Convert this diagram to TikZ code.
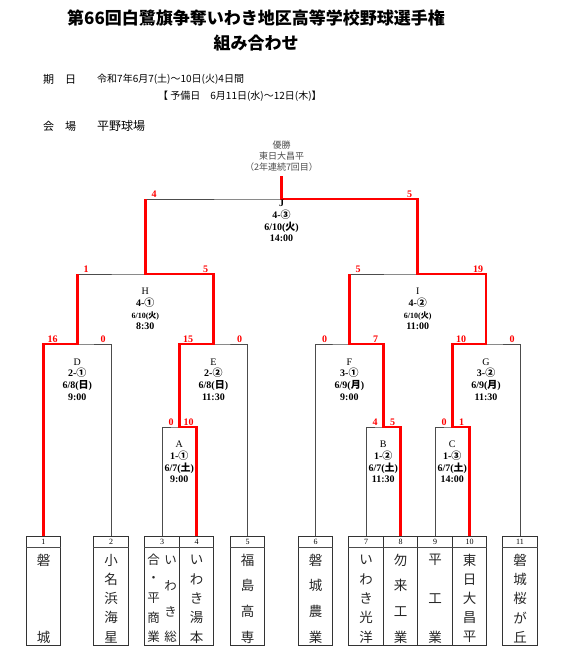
\documentclass[tikz,border=0pt]{standalone}
\usepackage{fontspec}
\setmainfont{Liberation Serif}
\newfontfamily\cjk{Noto Sans CJK JP}
\newcommand\J[1]{{\cjk #1}}
\newcommand\vcol[5]{% prefix, x, n, style, list
  \foreach \ch [count=\i] in {#5}{\node[#4] (#1-\i) at (#2,{560+(\i-1)*77/(#3-1)}) {\ch};}}
\begin{document}
\begin{tikzpicture}[x=1pt,y=-1pt,
  wline/.style={draw=black!70, line width=0.8pt},
  rline/.style={draw=red, line width=2.6pt, line join=miter},
  score/.style={text=red, font=\bfseries\fontsize{10}{10}\selectfont, anchor=south, inner sep=0pt},
  mlabel/.style={align=center, font=\bfseries\fontsize{10}{11.8}\selectfont, inner sep=0pt},
  tbox/.style={draw=black!80, line width=0.8pt, minimum width=34.5pt, minimum height=109pt, inner sep=0pt},
  tnum/.style={font=\fontsize{8}{8}\selectfont, inner sep=0pt},
  tname/.style={font=\cjk\fontsize{13.5}{13.5}\selectfont, inner sep=0pt, text=black!85},
  tname3/.style={font=\cjk\fontsize{12.5}{12.5}\selectfont, inner sep=0pt, text=black!85},
  hdr/.style={anchor=west, inner sep=0pt, font=\cjk\fontsize{10}{10}\selectfont},
  hlab/.style={anchor=west, inner sep=0pt, font=\cjk\fontsize{11}{11}\selectfont},
  ttl/.style={inner sep=0pt, font=\cjk\bfseries\fontsize{17}{17}\selectfont},
]
\useasboundingbox (0,0) rectangle (567,648);

% title and header
\node[ttl] (title1) at (256,18) {第66回白鷺旗争奪いわき地区高等学校野球選手権};
\node[ttl] (title2) at (256,43) {組み合わせ};
\node[hlab] (h1) at (43,79) {期　日};
\node[hdr] (h2) at (97,79) {令和7年6月7(土)～10日(火)4日間};
\node[hdr] (h3) at (158,96) {【 予備日　6月11日(水)～12日(木)】};
\node[hlab] (h4) at (43,126) {会　場};
\node[hlab, font=\cjk\fontsize{12}{12}\selectfont] (h5) at (97,126) {平野球場};

% champion
\node[align=center, inner sep=0pt, text=black!70, font=\cjk\fontsize{9}{11}\selectfont] (champ) at (281.5,156) {優勝\\東日大昌平\\（2年連続7回目）};
\coordinate (top) at (281.5,176);

% team boxes
\foreach \n/\x in {1/43.5,2/111,3/162,4/196.5,5/247.5,6/315.5,7/366,8/400.5,9/435,10/469.5,11/520}{
  \node[tbox] (b\n) at (\x,590.5) {};
  \draw[wline] ([yshift=-12pt]b\n.north west) -- ([yshift=-12pt]b\n.north east);
  \node[tnum] (n\n) at ([yshift=-6pt]b\n.north) {\n};
}
\vcol{c1}{43.5}{2}{tname}{磐,城}
\vcol{c2}{111}{5}{tname}{小,名,浜,海,星}
\vcol{c3a}{153.5}{5}{tname3}{合,・,平,商,業}
\vcol{c3b}{170.5}{4}{tname3}{い,わ,き,総}
\vcol{c4}{196.5}{5}{tname}{い,わ,き,湯,本}
\vcol{c5}{247.5}{4}{tname}{福,島,高,専}
\vcol{c6}{315.5}{4}{tname}{磐,城,農,業}
\vcol{c7}{366}{5}{tname}{い,わ,き,光,洋}
\vcol{c8}{400.5}{4}{tname}{勿,来,工,業}
\vcol{c9}{435}{3}{tname}{平,工,業}
\vcol{c10}{469.5}{5}{tname}{東,日,大,昌,平}
\vcol{c11}{520}{5}{tname}{磐,城,桜,が,丘}

% match points
\coordinate (mA) at (179.25,427);
\coordinate (mB) at (383.25,427);
\coordinate (mC) at (452.25,427);
\coordinate (mD) at (77.25,344);
\coordinate (mE) at (213.4,344);
\coordinate (mF) at (349.4,344);
\coordinate (mG) at (486.1,344);
\coordinate (mH) at (145.3,274);
\coordinate (mI) at (417.75,274);
\coordinate (mJ) at (281.5,199);

% bracket (thin)
\draw[wline] (b1.north) |- (mD) -| (b2.north);
\draw[wline] (b3.north) |- (mA) -| (b4.north);
\draw[wline] (mA) |- (mE) -| (b5.north);
\draw[wline] (mD) |- (mH) -| (mE);
\draw[wline] (b7.north) |- (mB) -| (b8.north);
\draw[wline] (b6.north) |- (mF) -| (mB);
\draw[wline] (b9.north) |- (mC) -| (b10.north);
\draw[wline] (mC) |- (mG) -| (b11.north);
\draw[wline] (mF) |- (mI) -| (mG);
\draw[wline] (mH) |- (mJ) -| (mI);
\draw[wline] (mJ) -- (top);

% winners (red)
\draw[rline] (b1.north) |- (mD) -- (mD |- mH);
\draw[rline] (b4.north) |- (mA) |- (mE) |- (mH) -- (mH |- mJ);
\draw[rline] (b8.north) |- (mB) |- (mF) -- (mF |- mI);
\draw[rline] (b10.north) |- (mC) |- (mG) |- (mI) |- (mJ) -- (top);

% scores
\node[score] (sDl) at (52.5,342.5) {16};
\node[score] (sDr) at (103,342.5) {0};
\node[score] (sAl) at (171,425.5) {0};
\node[score] (sAr) at (188.5,425.5) {10};
\node[score] (sEl) at (188,342.5) {15};
\node[score] (sEr) at (239.5,342.5) {0};
\node[score] (sHl) at (86,272.5) {1};
\node[score] (sHr) at (205.5,272.5) {5};
\node[score] (sBl) at (375,425.5) {4};
\node[score] (sBr) at (392.5,425.5) {5};
\node[score] (sFl) at (324.5,342.5) {0};
\node[score] (sFr) at (375.5,342.5) {7};
\node[score] (sCl) at (444,425.5) {0};
\node[score] (sCr) at (461.5,425.5) {1};
\node[score] (sGl) at (461,342.5) {10};
\node[score] (sGr) at (512,342.5) {0};
\node[score] (sIl) at (358,272.5) {5};
\node[score] (sIr) at (478,272.5) {19};
\node[score] (sJl) at (154,197.5) {4};
\node[score] (sJr) at (409.5,197.5) {5};

% match labels
\node[mlabel] (lJ) at (281.5,221) {J\\4-\J{③}\\6/10(\J{火})\\14:00};
\node[mlabel] (lH) at (145.3,309) {\mdseries H\\4-\J{①}\\{\fontsize{8}{11.8}\selectfont 6/10(\J{火})}\\8:30};
\node[mlabel] (lI) at (417.75,309) {\mdseries I\\4-\J{②}\\{\fontsize{8}{11.8}\selectfont 6/10(\J{火})}\\11:00};
\node[mlabel] (lD) at (77.25,379.5) {\mdseries D\\2-\J{①}\\6/8(\J{日})\\9:00};
\node[mlabel] (lE) at (213.4,379.5) {\mdseries E\\2-\J{②}\\6/8(\J{日})\\11:30};
\node[mlabel] (lF) at (349.4,379.5) {\mdseries F\\3-\J{①}\\6/9(\J{月})\\9:00};
\node[mlabel] (lG) at (486.1,379.5) {\mdseries G\\3-\J{②}\\6/9(\J{月})\\11:30};
\node[mlabel] (lA) at (179.25,462) {\mdseries A\\1-\J{①}\\6/7(\J{土})\\9:00};
\node[mlabel] (lB) at (383.25,462) {\mdseries B\\1-\J{②}\\6/7(\J{土})\\11:30};
\node[mlabel] (lC) at (452.25,462) {\mdseries C\\1-\J{③}\\6/7(\J{土})\\14:00};
\end{tikzpicture}
\end{document}
